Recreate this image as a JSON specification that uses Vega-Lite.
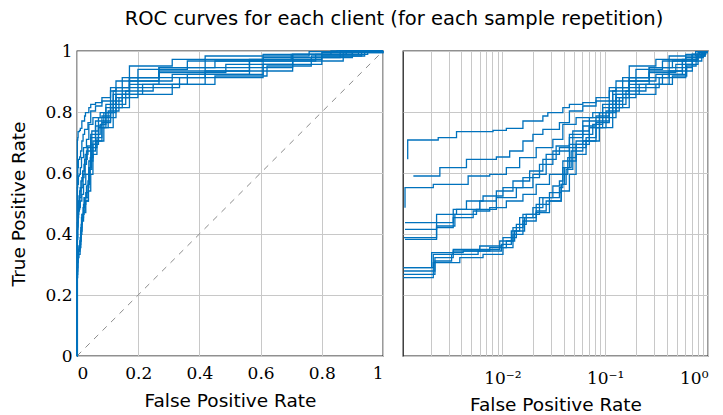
{
  "$schema": "https://vega.github.io/schema/vega-lite/v6.json",
  "padding": {"left": 9, "top": 8, "right": 5, "bottom": 5},
  "title": {"text": "ROC curves for each client (for each sample repetition)", "font": "DejaVu Sans", "fontSize": 19.5, "fontWeight": "normal", "color": "#000", "anchor": "middle", "offset": 12, "dx": 35},
  "config": {
    "view": {"stroke": "#222", "strokeWidth": 1.3},
    "axis": {"gridColor": "#c8c8c8", "gridOpacity": 1, "gridWidth": 1, "domain": false, "ticks": false, "labelFont": "DejaVu Serif", "labelFontSize": 17, "labelColor": "#000", "titleFont": "DejaVu Sans", "titleFontSize": 18.5, "titleFontWeight": "normal", "titleColor": "#000", "labelPadding": 6}
  },
  "datasets": {
    "roc": [
      {"c":"A","f":0,"t":0},{"c":"A","f":0.0012,"t":0.6448},{"c":"A","f":0.0012,"t":0.7082},{"c":"A","f":0.002377,"t":0.7082},{"c":"A","f":0.002377,"t":0.7158},{"c":"A","f":0.003581,"t":0.7158},{"c":"A","f":0.003581,"t":0.7355},{"c":"A","f":0.00811,"t":0.7399},{"c":"A","f":0.01093,"t":0.7465},{"c":"A","f":0.01585,"t":0.7705},{"c":"A","f":0.02477,"t":0.7869},{"c":"A","f":0.02767,"t":0.7978},{"c":"A","f":0.03873,"t":0.8142},{"c":"A","f":0.04487,"t":0.8251},{"c":"A","f":0.06053,"t":0.8306},{"c":"A","f":0.08147,"t":0.847},{"c":"A","f":0.1096,"t":0.8689},{"c":"A","f":0.1274,"t":0.9016},{"c":"A","f":0.1714,"t":0.9508},{"c":"A","f":0.3112,"t":0.9727},{"c":"A","f":0.4188,"t":0.9836},{"c":"A","f":0.7586,"t":0.9978},{"c":"A","f":0.85,"t":1},{"c":"A","f":1,"t":1},
      {"c":"B","f":0,"t":0},{"c":"B","f":0.001362,"t":0.5902},{"c":"B","f":0.002466,"t":0.5902},{"c":"B","f":0.002466,"t":0.6175},{"c":"B","f":0.004474,"t":0.6175},{"c":"B","f":0.004474,"t":0.6448},{"c":"B","f":0.008745,"t":0.6525},{"c":"B","f":0.01178,"t":0.6721},{"c":"B","f":0.01585,"t":0.7049},{"c":"B","f":0.01982,"t":0.7268},{"c":"B","f":0.02477,"t":0.7432},{"c":"B","f":0.03589,"t":0.765},{"c":"B","f":0.04487,"t":0.8033},{"c":"B","f":0.06053,"t":0.8197},{"c":"B","f":0.08147,"t":0.8361},{"c":"B","f":0.1096,"t":0.8798},{"c":"B","f":0.1479,"t":0.9126},{"c":"B","f":0.1991,"t":0.9399},{"c":"B","f":0.3606,"t":0.9672},{"c":"B","f":0.6081,"t":0.9891},{"c":"B","f":0.88,"t":1},{"c":"B","f":1,"t":1},
      {"c":"C","f":0,"t":0},{"c":"C","f":0.00113,"t":0.4863},{"c":"C","f":0.00113,"t":0.5519},{"c":"C","f":0.002128,"t":0.5519},{"c":"C","f":0.002128,"t":0.5628},{"c":"C","f":0.004645,"t":0.5628},{"c":"C","f":0.004645,"t":0.5902},{"c":"C","f":0.007534,"t":0.5956},{"c":"C","f":0.01093,"t":0.6175},{"c":"C","f":0.01472,"t":0.6503},{"c":"C","f":0.02133,"t":0.6831},{"c":"C","f":0.03097,"t":0.7104},{"c":"C","f":0.03873,"t":0.7596},{"c":"C","f":0.05212,"t":0.7814},{"c":"C","f":0.07568,"t":0.7978},{"c":"C","f":0.09441,"t":0.8251},{"c":"C","f":0.1274,"t":0.8798},{"c":"C","f":0.1714,"t":0.9126},{"c":"C","f":0.2679,"t":0.9454},{"c":"C","f":0.4508,"t":0.9672},{"c":"C","f":0.7,"t":0.9891},{"c":"C","f":0.9,"t":1},{"c":"C","f":1,"t":1},
      {"c":"D","f":0,"t":0},{"c":"D","f":0.00113,"t":0.4372},{"c":"D","f":0.002291,"t":0.4372},{"c":"D","f":0.002291,"t":0.4645},{"c":"D","f":0.003581,"t":0.4809},{"c":"D","f":0.006026,"t":0.5082},{"c":"D","f":0.008745,"t":0.541},{"c":"D","f":0.01268,"t":0.5738},{"c":"D","f":0.01841,"t":0.6066},{"c":"D","f":0.02477,"t":0.6448},{"c":"D","f":0.03334,"t":0.6885},{"c":"D","f":0.04487,"t":0.7158},{"c":"D","f":0.06053,"t":0.7541},{"c":"D","f":0.08147,"t":0.7869},{"c":"D","f":0.1096,"t":0.8361},{"c":"D","f":0.1479,"t":0.8798},{"c":"D","f":0.1991,"t":0.9126},{"c":"D","f":0.2679,"t":0.9344},{"c":"D","f":0.5636,"t":0.9727},{"c":"D","f":0.8,"t":0.9945},{"c":"D","f":1,"t":1},
      {"c":"E","f":0,"t":0},{"c":"E","f":0.00113,"t":0.4153},{"c":"E","f":0.002291,"t":0.4208},{"c":"E","f":0.003327,"t":0.4809},{"c":"E","f":0.004474,"t":0.5082},{"c":"E","f":0.006486,"t":0.5246},{"c":"E","f":0.01014,"t":0.5519},{"c":"E","f":0.01585,"t":0.5847},{"c":"E","f":0.02296,"t":0.6284},{"c":"E","f":0.03097,"t":0.6721},{"c":"E","f":0.04487,"t":0.7268},{"c":"E","f":0.06053,"t":0.7705},{"c":"E","f":0.0877,"t":0.7978},{"c":"E","f":0.1183,"t":0.8579},{"c":"E","f":0.1714,"t":0.9016},{"c":"E","f":0.2679,"t":0.929},{"c":"E","f":0.4864,"t":0.9563},{"c":"E","f":0.7047,"t":0.9891},{"c":"E","f":0.92,"t":1},{"c":"E","f":1,"t":1},
      {"c":"F","f":0,"t":0},{"c":"F","f":0.00113,"t":0.3825},{"c":"F","f":0.002291,"t":0.3825},{"c":"F","f":0.002291,"t":0.4372},{"c":"F","f":0.003327,"t":0.4536},{"c":"F","f":0.0052,"t":0.4754},{"c":"F","f":0.007534,"t":0.4863},{"c":"F","f":0.01093,"t":0.5082},{"c":"F","f":0.01585,"t":0.5301},{"c":"F","f":0.02133,"t":0.5628},{"c":"F","f":0.02871,"t":0.5956},{"c":"F","f":0.03873,"t":0.6393},{"c":"F","f":0.05212,"t":0.694},{"c":"F","f":0.07015,"t":0.7486},{"c":"F","f":0.09441,"t":0.7814},{"c":"F","f":0.1274,"t":0.847},{"c":"F","f":0.1714,"t":0.8907},{"c":"F","f":0.2679,"t":0.9126},{"c":"F","f":0.4188,"t":0.9454},{"c":"F","f":0.7047,"t":0.9781},{"c":"F","f":0.86,"t":1},{"c":"F","f":1,"t":1},
      {"c":"G","f":0,"t":0},{"c":"G","f":0.001106,"t":0.2896},{"c":"G","f":0.002128,"t":0.2896},{"c":"G","f":0.002128,"t":0.3333},{"c":"G","f":0.003327,"t":0.3497},{"c":"G","f":0.006026,"t":0.3607},{"c":"G","f":0.01014,"t":0.388},{"c":"G","f":0.01368,"t":0.4317},{"c":"G","f":0.01706,"t":0.4645},{"c":"G","f":0.02296,"t":0.5191},{"c":"G","f":0.03097,"t":0.5574},{"c":"G","f":0.03589,"t":0.5738},{"c":"G","f":0.03873,"t":0.6175},{"c":"G","f":0.04487,"t":0.694},{"c":"G","f":0.06053,"t":0.7268},{"c":"G","f":0.07568,"t":0.7596},{"c":"G","f":0.09441,"t":0.7978},{"c":"G","f":0.1274,"t":0.8579},{"c":"G","f":0.1714,"t":0.9016},{"c":"G","f":0.3112,"t":0.9235},{"c":"G","f":0.5636,"t":0.9672},{"c":"G","f":0.78,"t":0.9891},{"c":"G","f":0.95,"t":1},{"c":"G","f":1,"t":1},
      {"c":"H","f":0,"t":0},{"c":"H","f":0.001106,"t":0.2787},{"c":"H","f":0.002208,"t":0.2787},{"c":"H","f":0.002208,"t":0.3224},{"c":"H","f":0.003327,"t":0.3443},{"c":"H","f":0.006026,"t":0.3497},{"c":"H","f":0.009418,"t":0.377},{"c":"H","f":0.01268,"t":0.4208},{"c":"H","f":0.01585,"t":0.4645},{"c":"H","f":0.02133,"t":0.4973},{"c":"H","f":0.02871,"t":0.5355},{"c":"H","f":0.03733,"t":0.5628},{"c":"H","f":0.04169,"t":0.612},{"c":"H","f":0.04842,"t":0.6831},{"c":"H","f":0.06516,"t":0.7158},{"c":"H","f":0.08147,"t":0.7486},{"c":"H","f":0.1019,"t":0.8033},{"c":"H","f":0.1371,"t":0.847},{"c":"H","f":0.1991,"t":0.8798},{"c":"H","f":0.335,"t":0.9126},{"c":"H","f":0.6081,"t":0.9563},{"c":"H","f":0.8,"t":0.9836},{"c":"H","f":0.93,"t":1},{"c":"H","f":1,"t":1},
      {"c":"I","f":0,"t":0},{"c":"I","f":0.001089,"t":0.2678},{"c":"I","f":0.002208,"t":0.2678},{"c":"I","f":0.002208,"t":0.3115},{"c":"I","f":0.003206,"t":0.3333},{"c":"I","f":0.005807,"t":0.3443},{"c":"I","f":0.009772,"t":0.3661},{"c":"I","f":0.01222,"t":0.4098},{"c":"I","f":0.01472,"t":0.4536},{"c":"I","f":0.01982,"t":0.4863},{"c":"I","f":0.02477,"t":0.5191},{"c":"I","f":0.03589,"t":0.5519},{"c":"I","f":0.03873,"t":0.5956},{"c":"I","f":0.04325,"t":0.6503},{"c":"I","f":0.05212,"t":0.7049},{"c":"I","f":0.07015,"t":0.7486},{"c":"I","f":0.0877,"t":0.7705},{"c":"I","f":0.1096,"t":0.8251},{"c":"I","f":0.1592,"t":0.8689},{"c":"I","f":0.2489,"t":0.8907},{"c":"I","f":0.4188,"t":0.9344},{"c":"I","f":0.7047,"t":0.9672},{"c":"I","f":0.87,"t":0.9945},{"c":"I","f":1,"t":1},
      {"c":"J","f":0,"t":0},{"c":"J","f":0.001089,"t":0.2568},{"c":"J","f":0.002128,"t":0.2568},{"c":"J","f":0.002128,"t":0.306},{"c":"J","f":0.003855,"t":0.3224},{"c":"J","f":0.006486,"t":0.3333},{"c":"J","f":0.01014,"t":0.3552},{"c":"J","f":0.01268,"t":0.3989},{"c":"J","f":0.01585,"t":0.4426},{"c":"J","f":0.02133,"t":0.4754},{"c":"J","f":0.02667,"t":0.5082},{"c":"J","f":0.03733,"t":0.541},{"c":"J","f":0.04487,"t":0.5956},{"c":"J","f":0.05212,"t":0.6612},{"c":"J","f":0.06516,"t":0.7049},{"c":"J","f":0.0877,"t":0.7486},{"c":"J","f":0.1183,"t":0.8142},{"c":"J","f":0.1714,"t":0.8579},{"c":"J","f":0.3112,"t":0.8907},{"c":"J","f":0.4508,"t":0.8907},{"c":"J","f":0.4508,"t":0.918},{"c":"J","f":0.6209,"t":0.9235},{"c":"J","f":0.6209,"t":0.9508},{"c":"J","f":0.7656,"t":0.9672},{"c":"J","f":0.7656,"t":0.9836},{"c":"J","f":0.94,"t":1},{"c":"J","f":1,"t":1},
      {"c":"K","f":0,"t":0},{"c":"K","f":0.001106,"t":0.388},{"c":"K","f":0.002291,"t":0.388},{"c":"K","f":0.002291,"t":0.4262},{"c":"K","f":0.003452,"t":0.4262},{"c":"K","f":0.003452,"t":0.4645},{"c":"K","f":0.0056,"t":0.4809},{"c":"K","f":0.008745,"t":0.5191},{"c":"K","f":0.01368,"t":0.5519},{"c":"K","f":0.01982,"t":0.5956},{"c":"K","f":0.02667,"t":0.6612},{"c":"K","f":0.03589,"t":0.6831},{"c":"K","f":0.04842,"t":0.7377},{"c":"K","f":0.07015,"t":0.7814},{"c":"K","f":0.09441,"t":0.8142},{"c":"K","f":0.1183,"t":0.8689},{"c":"K","f":0.1714,"t":0.9126},{"c":"K","f":0.2679,"t":0.9454},{"c":"K","f":0.4188,"t":0.9727},{"c":"K","f":0.7047,"t":0.9891},{"c":"K","f":0.83,"t":1},{"c":"K","f":1,"t":1},
      {"c":"L","f":0,"t":0},{"c":"L","f":0.001089,"t":0.2896},{"c":"L","f":0.002051,"t":0.2896},{"c":"L","f":0.002051,"t":0.3388},{"c":"L","f":0.004156,"t":0.3443},{"c":"L","f":0.007534,"t":0.3552},{"c":"L","f":0.01093,"t":0.377},{"c":"L","f":0.01316,"t":0.4098},{"c":"L","f":0.01644,"t":0.4536},{"c":"L","f":0.02133,"t":0.47},{"c":"L","f":0.02871,"t":0.5082},{"c":"L","f":0.03733,"t":0.5628},{"c":"L","f":0.04018,"t":0.6175},{"c":"L","f":0.04667,"t":0.6721},{"c":"L","f":0.06053,"t":0.7049},{"c":"L","f":0.08147,"t":0.765},{"c":"L","f":0.1096,"t":0.8142},{"c":"L","f":0.1479,"t":0.8579},{"c":"L","f":0.2143,"t":0.8907},{"c":"L","f":0.3606,"t":0.9235},{"c":"L","f":0.6081,"t":0.9781},{"c":"L","f":0.9,"t":1},{"c":"L","f":1,"t":1}
    ],
    "diag": [{"f":0,"t":0},{"f":1,"t":1}]
  },
  "spacing": 15,
  "hconcat": [
    {
      "width": 306,
      "height": 305,
      "layer": [
        {
          "data": {"name": "diag"},
          "mark": {"type": "line", "color": "#8c8c8c", "strokeWidth": 1, "strokeDash": [6, 6]},
          "encoding": {
            "x": {"field": "f", "type": "quantitative"},
            "y": {"field": "t", "type": "quantitative"}
          }
        },
        {
          "data": {"name": "roc"},
          "mark": {"type": "line", "interpolate": "step-after", "color": "#0072BD", "strokeWidth": 1.3},
          "encoding": {
            "x": {"field": "f", "type": "quantitative", "scale": {"domain": [0, 1], "nice": false}, "axis": {"title": "False Positive Rate", "values": [0, 0.2, 0.4, 0.6, 0.8, 1], "format": "~g", "labelPadding": 9, "titlePadding": 10}},
            "y": {"field": "t", "type": "quantitative", "scale": {"domain": [0, 1], "nice": false}, "axis": {"title": "True Positive Rate", "values": [0, 0.2, 0.4, 0.6, 0.8, 1], "format": "~g", "titlePadding": 16, "labelPadding": 5}},
            "detail": {"field": "c"},
            "order": {"value": null}
          }
        }
      ]
    },
    {
      "width": 305,
      "height": 305,
      "data": {"name": "roc"},
      "transform": [{"filter": "datum.f > 0"}],
      "mark": {"type": "line", "interpolate": "step-after", "color": "#0072BD", "strokeWidth": 1.3, "clip": true},
      "encoding": {
        "x": {"field": "f", "type": "quantitative", "scale": {"type": "log", "domain": [0.00108, 1], "nice": false}, "axis": {"title": "False Positive Rate", "values": [0.002,0.003,0.004,0.005,0.006,0.007,0.008,0.009,0.01,0.02,0.03,0.04,0.05,0.06,0.07,0.08,0.09,0.1,0.2,0.3,0.4,0.5,0.6,0.7,0.8,0.9,1], "labelExpr": "datum.value == 0.01 ? '10⁻²' : datum.value == 0.1 ? '10⁻¹' : datum.value == 1 ? '10⁰' : ''", "labelFontSize": 17, "labelPadding": 14, "labelOverlap": false, "titlePadding": 9}},
        "y": {"field": "t", "type": "quantitative", "scale": {"domain": [0, 1], "nice": false}, "axis": {"title": null, "labels": false, "values": [0, 0.2, 0.4, 0.6, 0.8, 1]}},
        "detail": {"field": "c"},
        "order": {"value": null}
      }
    }
  ]
}
